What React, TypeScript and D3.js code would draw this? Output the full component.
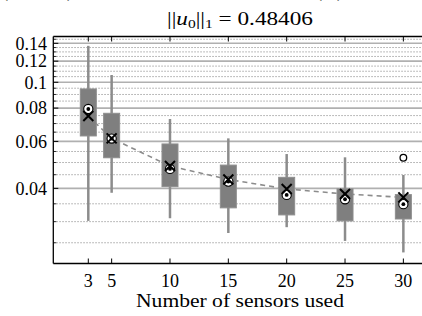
import React from 'react';
import * as d3 from 'd3';

// values (log y axis)
const sensors = [3, 5, 10, 15, 20, 25, 30];
const whiskerLow = [0.0302, 0.0385, 0.0309, 0.0272, 0.0286, 0.0254, 0.0230];
const q1 = [0.0629, 0.0521, 0.0406, 0.0338, 0.0318, 0.0302, 0.0307];
const medians = [0.0794, 0.0615, 0.0473, 0.0424, 0.0378, 0.0364, 0.0349];
const q3 = [0.0944, 0.0765, 0.0587, 0.0489, 0.0440, 0.0398, 0.0379];
const whiskerHigh = [0.137, 0.1065, 0.0728, 0.0616, 0.0538, 0.0523, 0.0449];
const means = [0.0747, 0.0616, 0.0485, 0.0432, 0.0398, 0.0381, 0.0370];
const outlierX = [30];
const outlierY = [0.0521];

const yMajor = [0.04, 0.06, 0.08, 0.1, 0.12, 0.14];
const yMinor = d3.range(5, 30).map((k) => k * 0.005).filter((v) => !yMajor.some((m) => Math.abs(m - v) < 1e-9));
const yLabels = ['0.04', '0.06', '0.08', '0.1', '0.12', '0.14'];

const W = 422;
const H = 316;
const FONT = "'Liberation Serif', 'DejaVu Serif', serif";

const App: React.FC = () => {
  const x = d3.scaleLinear().domain([0, 32]).range([53.3, 426.7]);
  const y = d3.scaleLog().domain([0.0209, 0.1485]).range([263.5, 36.5]);
  const [x0, x1] = x.range();
  const [yb, yt] = y.range();
  const boxW = 16;

  const meanLine = d3
    .line<number>()
    .x((_, i) => x(sensors[i]))
    .y((d) => y(d));

  return (
    <svg width={W} height={H} style={{ position: 'fixed', left: 0, top: 0, background: '#fff', fontFamily: FONT }}>
      <rect width={W} height={H} fill="#fff" />

      {/* cut-off first title line */}
      <g fontSize={18} fill="#000">
        <text x={2} y={-3}>(</text>
        <text x={60} y={-3}>,</text>
        <text x={67} y={-3}>)</text>
        <text x={316} y={-3}>(</text>
        <text x={337} y={-3}>)</text>
      </g>
      <text x={(x0 + x1) / 2} y={25} fontSize={18} textAnchor="middle" textLength={146} lengthAdjust="spacingAndGlyphs">
        ||<tspan fontStyle="italic">u</tspan>
        <tspan fontSize={12} dy={3}>0</tspan>
        <tspan dy={-3}>||</tspan>
        <tspan fontSize={12} dy={3}>1</tspan>
        <tspan dy={-3}> = 0.48406</tspan>
      </text>

      {/* grid */}
      {yMinor.map((v) => (
        <line key={'mn' + v} x1={x0} x2={x1} y1={y(v)} y2={y(v)} stroke="#a6a6a6" strokeWidth={1} strokeDasharray="1.5,1.5" />
      ))}
      {yMajor.map((v) => (
        <line key={'mj' + v} x1={x0} x2={x1} y1={y(v)} y2={y(v)} stroke="#b0b0b0" strokeWidth={1.6} />
      ))}

      {/* mean trend */}
      <path d={meanLine(means) || ''} fill="none" stroke="#8c8c8c" strokeWidth={1.6} strokeDasharray="5,4" />

      {/* boxes */}
      {sensors.map((s, i) => (
        <g key={'b' + s}>
          <line x1={x(s)} x2={x(s)} y1={y(whiskerLow[i])} y2={y(whiskerHigh[i])} stroke="#8c8c8c" strokeWidth={2.5} />
          <rect
            x={x(s) - boxW / 2}
            width={boxW}
            y={y(q3[i])}
            height={y(q1[i]) - y(q3[i])}
            fill="#7f7f7f"
            stroke="#8e8e8e"
            strokeWidth={1}
          />
        </g>
      ))}

      {outlierX.map((s, i) => (
        <circle key={'o' + i} cx={x(s)} cy={y(outlierY[i])} r={3.3} fill="#fff" stroke="#000" strokeWidth={1.3} />
      ))}

      {sensors.map((s, i) => (
        <g key={'m' + s}>
          <circle cx={x(s)} cy={y(medians[i])} r={4.6} fill="#fff" stroke="#000" strokeWidth={1.1} />
          <circle cx={x(s)} cy={y(medians[i])} r={1.9} fill="#000" />
          <path
            d={`M${x(s) - 5},${y(means[i]) - 5}L${x(s) + 5},${y(means[i]) + 5}M${x(s) - 5},${y(means[i]) + 5}L${x(s) + 5},${y(means[i]) - 5}`}
            stroke="#000"
            strokeWidth={2}
          />
        </g>
      ))}

      {/* axes */}
      <line x1={x0} x2={x1} y1={yb} y2={yb} stroke="#000" strokeWidth={1.3} />
      <line x1={x0} x2={x1} y1={yt} y2={yt} stroke="#000" strokeWidth={1.3} />
      <line x1={x0} x2={x0} y1={yt} y2={yb} stroke="#000" strokeWidth={1.3} />
      {sensors.map((s) => (
        <g key={'t' + s}>
          <line x1={x(s)} x2={x(s)} y1={yb} y2={yb - 5} stroke="#000" strokeWidth={1} />
          <line x1={x(s)} x2={x(s)} y1={yt} y2={yt + 5} stroke="#000" strokeWidth={1} />
          <text x={x(s)} y={287} fontSize={18} textAnchor="middle">{s}</text>
        </g>
      ))}
      {yMajor.map((v, i) => (
        <g key={'yt' + v}>
          <line x1={x0} x2={x0 + 5} y1={y(v)} y2={y(v)} stroke="#000" strokeWidth={1} />
          <text x={47} y={y(v)} dy="0.35em" fontSize={18} textAnchor="end">{yLabels[i]}</text>
        </g>
      ))}
      {yMinor.map((v) => (
        <line key={'ym' + v} x1={x0} x2={x0 + 3} y1={y(v)} y2={y(v)} stroke="#000" strokeWidth={0.8} />
      ))}
      <text x={(x0 + x1) / 2} y={307} fontSize={18} textAnchor="middle" textLength={208} lengthAdjust="spacingAndGlyphs">
        Number of sensors used
      </text>
    </svg>
  );
};

export default App;
